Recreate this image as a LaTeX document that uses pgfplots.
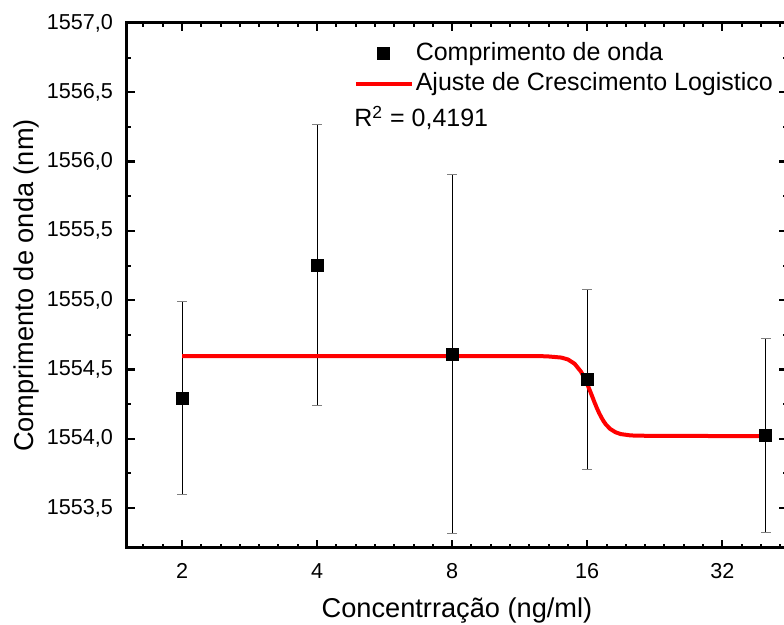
\documentclass[border=0pt]{standalone}
\usepackage{fontspec}
\setmainfont{Liberation Sans}
\usepackage{pgfplots}
\pgfplotsset{compat=1.18}
\pgfplotsset{
  legsq/.style={legend image code/.code={\draw[mark repeat=2,mark phase=2,##1] plot coordinates {(0pt,0pt) (14pt,0pt) (28pt,0pt)};}},
  legln/.style={legend image code/.code={\draw[##1] (0pt,0pt) -- (28pt,0pt);}},
}
\begin{document}
\begin{tikzpicture}
\begin{axis}[
  at={(0,0)}, anchor=south west,
  scale only axis, width=330pt, height=262.5pt,
  xmode=log, log basis x=2,
  xmin=1.508, xmax=44.6,
  ymin=1553.212, ymax=1557,
  xtick={2,4,8,16,32},
  xticklabels={2,4,8,16,32},
  extra x ticks={1.48599,1.64067,1.81145,
    2.20818,2.43802,2.6918,2.97198,3.28134,3.6229,
    4.41636,4.87604,5.3836,5.94396,6.56268,7.2458,
    8.83272,9.75208,10.7672,11.8879,13.1254,14.4916,
    17.6654,19.5042,21.5344,23.7758,26.2507,28.9832,
    35.3309,39.0083,43.0688},
  extra x tick labels={},
  extra x tick style={major tick length=2pt, every major tick/.style={line width=1pt, black}},
  ytick={1553.5,1554,1554.5,1555,1555.5,1556,1556.5,1557},
  minor y tick num=1,
  tick align=inside,
  major tick length=4pt, minor tick length=2pt,
  every major tick/.style={line width=1.2pt, black},
  every minor tick/.style={line width=1pt, black},
  axis line style={line width=1.5pt},
  /pgf/number format/assume math mode=true,
  ticklabel style={font=\fontsize{10.8}{12}\selectfont},
  xticklabel style={anchor=base, yshift=-15.5pt},
  yticklabel style={anchor=east, xshift=-3.5pt, /pgf/number format/.cd, fixed, fixed zerofill, precision=1, use comma, 1000 sep={}},
  xlabel={Concentrração (ng/ml)},
  ylabel={Comprimento de onda (nm)},
  label style={font=\fontsize{13.6}{16}\selectfont},
  xlabel style={at={(axis description cs:0.5,-0.1333)}, anchor=base},
  ylabel style={at={(axis description cs:-0.1424,0.5)}, anchor=base},
  legend style={at={(rel axis cs:0.343,0.971)}, anchor=north west, draw=none, fill=none,
    font=\fontsize{12.5}{15}\selectfont, inner sep=0pt, row sep=0pt,
    nodes={inner sep=1pt, text depth=3pt, text height=10pt}},
  legend cell align=left,
]
\addplot[only marks, mark=square*, mark size=3pt, black, legsq,
  error bars/.cd, y dir=both, y explicit, error mark=|,
  error bar style={line width=0.45pt, black},
  error mark options={line width=0.5pt, gray, mark size=2.5pt}]
  table[x=x, y=y, y error=e] {
x y e
2 1554.292 0.695
4 1555.254 1.017
8 1554.612 1.298
16 1554.429 0.651
40 1554.022 0.700
};
\addlegendentry{Comprimento de onda}
\addplot[red, line width=2pt, line join=round, no marks, legln] table {
2 1554.597
4 1554.597
8 1554.597
12 1554.597
13 1554.595
14 1554.586
14.5 1554.572
15 1554.541
15.5 1554.484
15.75 1554.443
16 1554.395
16.2 1554.352
16.4 1554.309
16.6 1554.265
16.8 1554.224
17.0 1554.187
17.2 1554.155
17.4 1554.127
17.6 1554.104
18 1554.071
18.5 1554.047
19 1554.034
20 1554.024
22 1554.021
30 1554.020
40 1554.020
};
\addlegendentry{Ajuste de Crescimento Logistico}
\node[anchor=base west, inner sep=0pt, font=\fontsize{12.5}{15}\selectfont] at (rel axis cs:0.344,0.8019) {R\textsuperscript{2} = 0,4191};
\end{axis}
\pgfresetboundingbox
\path[use as bounding box] (-63.5pt,-38.5pt) rectangle (328.5pt,274pt);
\end{tikzpicture}
\end{document}
